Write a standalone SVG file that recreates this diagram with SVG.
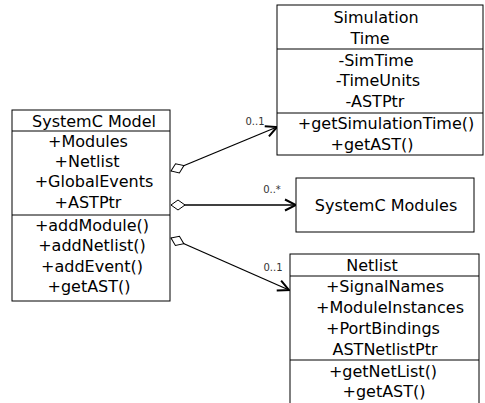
<svg xmlns="http://www.w3.org/2000/svg" width="485" height="403" viewBox="0 0 485 403">
  <style>
    .box { fill: #ffffff; stroke: #000000; stroke-width: 1; }
    .sep { stroke: #000000; stroke-width: 1; }
    .t { font-family: "DejaVu Sans", "Liberation Sans", sans-serif; font-size: 16px; fill: #000000; text-anchor: middle; }
    .lbl { font-family: "DejaVu Sans", "Liberation Sans", sans-serif; font-size: 10px; fill: #333333; text-anchor: middle; }
    .edge { fill: none; stroke: #000000; stroke-width: 1.3; }
  </style>
  <defs>
    <marker id="aggr" viewBox="-1 -1 16 12" refX="0" refY="5" markerWidth="16" markerHeight="12" markerUnits="userSpaceOnUse" orient="auto">
      <path d="M0,5 L7,0 L14,5 L7,10 Z" fill="#ffffff" stroke="#000000" stroke-width="1"/>
    </marker>
    <marker id="open" viewBox="-2 -2 15 15" refX="11" refY="5.5" markerWidth="15" markerHeight="15" markerUnits="userSpaceOnUse" orient="auto">
      <path d="M0,0 L11,5.5 L0,11" fill="none" stroke="#000000" stroke-width="2"/>
    </marker>
  </defs>

  <rect width="485" height="403" fill="#ffffff"/>

  <!-- aggregation connectors -->
  <g id="connectors">
    <path class="edge" d="M171,171 L277,127" marker-start="url(#aggr)" marker-end="url(#open)"/>
    <text class="lbl" x="255" y="125">0..1</text>
    <path class="edge" d="M171,205 L296,205" marker-start="url(#aggr)" marker-end="url(#open)"/>
    <text class="lbl" x="272" y="193">0..*</text>
    <path class="edge" d="M171,238 L289,290" marker-start="url(#aggr)" marker-end="url(#open)"/>
    <text class="lbl" x="273" y="271">0..1</text>
  </g>

  <!-- SystemC Model class -->
  <g id="systemc-model">
    <rect class="box" x="12" y="110" width="158" height="191"/>
    <line class="sep" x1="12" y1="131" x2="170" y2="131"/>
    <line class="sep" x1="12" y1="215" x2="170" y2="215"/>
    <text class="t" x="94" y="127">SystemC Model</text>
    <text class="t" x="88" y="147">+Modules</text>
    <text class="t" x="87" y="167">+Netlist</text>
    <text class="t" x="94" y="187">+GlobalEvents</text>
    <text class="t" x="88" y="208">+ASTPtr</text>
    <text class="t" x="92" y="231">+addModule()</text>
    <text class="t" x="92" y="251">+addNetlist()</text>
    <text class="t" x="92" y="272">+addEvent()</text>
    <text class="t" x="89" y="292">+getAST()</text>
  </g>

  <!-- Simulation Time class -->
  <g id="simulation-time">
    <rect class="box" x="277" y="5" width="206" height="150"/>
    <line class="sep" x1="277" y1="49" x2="483" y2="49"/>
    <line class="sep" x1="277" y1="113" x2="483" y2="113"/>
    <text class="t" x="376" y="23">Simulation</text>
    <text class="t" x="370" y="44">Time</text>
    <text class="t" x="376" y="66">-SimTime</text>
    <text class="t" x="378" y="86">-TimeUnits</text>
    <text class="t" x="375" y="107">-ASTPtr</text>
    <text class="t" x="386" y="129">+getSimulationTime()</text>
    <text class="t" x="372" y="150">+getAST()</text>
  </g>

  <!-- SystemC Modules block -->
  <g id="systemc-modules">
    <rect class="box" x="296" y="178" width="178" height="54"/>
    <text class="t" x="386" y="211">SystemC Modules</text>
  </g>

  <!-- Netlist class -->
  <g id="netlist">
    <rect class="box" x="290" y="254" width="189" height="160"/>
    <line class="sep" x1="290" y1="276" x2="479" y2="276"/>
    <line class="sep" x1="290" y1="360" x2="479" y2="360"/>
    <text class="t" x="372" y="271">Netlist</text>
    <text class="t" x="385" y="292">+SignalNames</text>
    <text class="t" x="390" y="313">+ModuleInstances</text>
    <text class="t" x="383" y="334">+PortBindings</text>
    <text class="t" x="385" y="355">ASTNetlistPtr</text>
    <text class="t" x="383" y="377">+getNetList()</text>
    <text class="t" x="384" y="397">+getAST()</text>
  </g>
</svg>
